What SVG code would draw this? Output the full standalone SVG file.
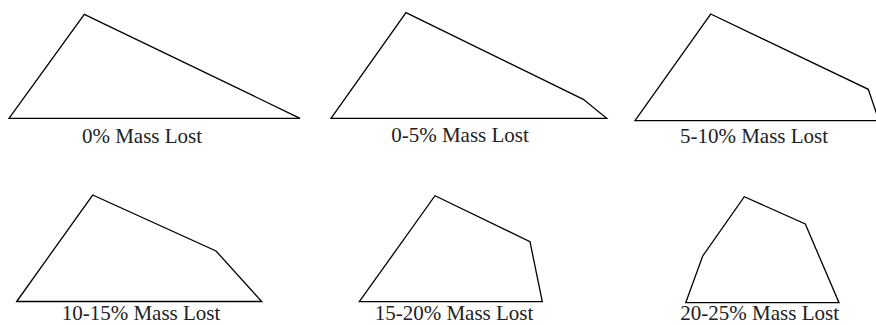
<svg xmlns="http://www.w3.org/2000/svg" width="876" height="325" viewBox="0 0 876 325">
<style>
.s{fill:none;stroke:#000;stroke-width:1.3;stroke-linejoin:miter}
.t{font-family:"Liberation Serif","Times New Roman",serif;font-size:21px;fill:#222;text-anchor:middle}
</style>
<rect width="876" height="325" fill="#fff"/>
<g id="p0">
<polygon class="s" points="9,118.3 84.3,14.3 300,118.3"/>
<text class="t" x="142" y="142.5">0% Mass Lost</text>
</g>
<g id="p1">
<polygon class="s" points="331,118.3 406,12.7 583.3,99.3 606.7,118.3"/>
<text class="t" x="460" y="142">0-5% Mass Lost</text>
</g>
<g id="p2">
<polygon class="s" points="635,120.7 710.7,14 868.3,89.3 879,120.7"/>
<text class="t" x="754" y="142.5">5-10% Mass Lost</text>
</g>
<g id="p3">
<polygon class="s" points="16.7,301.5 92.7,195 216,251 261.7,301.5"/>
<text class="t" x="141" y="320">10-15% Mass Lost</text>
</g>
<g id="p4">
<polygon class="s" points="359.3,301.7 435,195.7 530,241.7 542.3,301.7"/>
<text class="t" x="454" y="320">15-20% Mass Lost</text>
</g>
<g id="p5">
<polygon class="s" points="685.7,302.7 702.7,256 744.3,196.7 805.3,224 839,302.7"/>
<text class="t" x="759.7" y="320">20-25% Mass Lost</text>
</g>
</svg>
